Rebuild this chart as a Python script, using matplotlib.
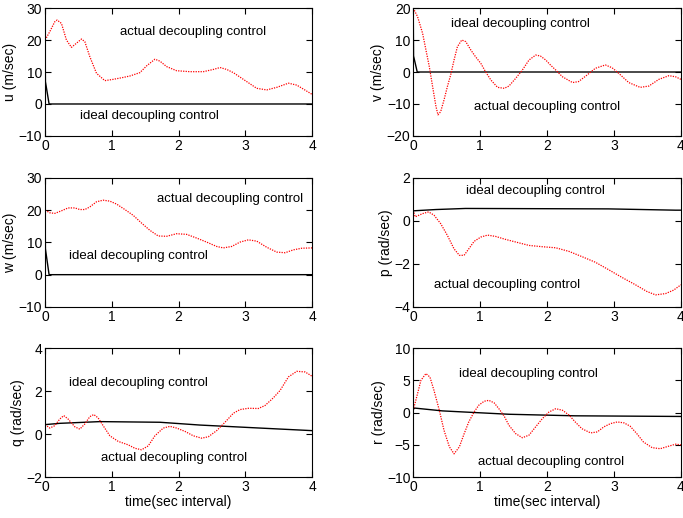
import matplotlib.pyplot as plt

plt.rcParams['font.family'] = ['Liberation Sans', 'DejaVu Sans']

# ideal decoupling control (black)
t_ideal_uvw = [0, 0.005, 0.06, 4]
u_ideal = [20, 7, 0, 0]
v_ideal = [20, 5, 0, 0]
w_ideal = [20, 8, 0, 0]
t_p_ideal = [0, 0.34, 0.78, 2.92, 3.92, 4]
p_ideal = [0.47, 0.53, 0.58, 0.56, 0.5, 0.5]
t_q_ideal = [0, 0.22, 0.82, 1.72, 2.32, 3.22, 4]
q_ideal = [0.44, 0.5, 0.58, 0.55, 0.42, 0.28, 0.16]
t_r_ideal = [0, 0.02, 0.44, 1.43, 2.42, 4]
r_ideal = [0.5, 0.7, 0.26, -0.26, -0.5, -0.6]

# actual decoupling control (red dotted)
t_u = [0, 0.07, 0.145, 0.18, 0.245, 0.32, 0.395, 0.47, 0.545, 0.595, 0.67, 0.77,
       0.895, 1.02, 1.17, 1.27, 1.42, 1.52, 1.645, 1.72, 1.82, 1.97, 2.17, 2.37,
       2.52, 2.62, 2.72, 2.82, 3.02, 3.17, 3.32, 3.47, 3.645, 3.77, 4.0]
u_act = [20, 22.6, 25.7, 26.25, 25.2, 20, 17.7, 19, 20.3, 19.5, 14.8, 9.6,
         7.3, 7.7, 8.3, 8.75, 9.8, 11.9, 14, 13.4, 11.7, 10.4, 10.1, 10.1,
         10.8, 11.4, 10.8, 9.8, 7, 4.9, 4.4, 5.2, 6.5, 5.9, 3.0]
t_v = [0, 0.065, 0.14, 0.19, 0.24, 0.29, 0.34, 0.37, 0.41, 0.46, 0.51, 0.56,
       0.61, 0.66, 0.725, 0.785, 0.86, 0.93, 1.01, 1.08, 1.16, 1.26, 1.36, 1.43,
       1.53, 1.63, 1.73, 1.83, 1.9, 1.98, 2.05, 2.13, 2.23, 2.38, 2.47, 2.6,
       2.72, 2.87, 2.97, 3.07, 3.22, 3.39, 3.52, 3.67, 3.82, 3.92, 4]
v_act = [20, 17.3, 12.1, 6.9, 1.7, -4.6, -10.8, -13.4, -12.4, -8.75, -4.6, -0.9,
         3.75, 7.9, 10, 9.5, 6.9, 4.8, 2.7, 0.1, -2.5, -4.8, -5.1, -4.4,
         -2, 0.6, 3.75, 5.3, 5, 3.75, 2.2, 0.6, -1.5, -3.3, -3, -0.9,
         1.15, 2.2, 1.35, -0.4, -3.3, -4.8, -4.4, -2.3, -1.15, -1.5, -2.3]
t_w = [0, 0.07, 0.145, 0.245, 0.345, 0.445, 0.52, 0.595, 0.67, 0.77, 0.87,
       0.97, 1.07, 1.195, 1.32, 1.445, 1.57, 1.695, 1.82, 1.97, 2.12, 2.27,
       2.42, 2.57, 2.67, 2.795, 2.92, 3.045, 3.17, 3.32, 3.47, 3.595, 3.72,
       3.845, 4]
w_act = [20, 19.2, 19, 19.8, 20.7, 20.7, 20.2, 20.2, 21, 22.6, 23.1,
         22.8, 21.9, 20.2, 18.4, 16, 13.75, 12, 11.9, 12.7, 12.5, 11.35,
         10.1, 8.75, 8.3, 8.75, 10.1, 10.8, 10.4, 8.5, 7, 6.8, 7.7,
         8.2, 8.3]
t_p = [0, 0.03, 0.14, 0.23, 0.31, 0.41, 0.51, 0.61, 0.69, 0.76, 0.83, 0.91,
       1.01, 1.11, 1.23, 1.38, 1.53, 1.73, 1.93, 2.13, 2.33, 2.52, 2.72, 2.92,
       3.12, 3.32, 3.49, 3.62, 3.77, 3.89, 4]
p_act = [0.5, 0.19, 0.34, 0.42, 0.27, -0.125, -0.67, -1.3, -1.6, -1.6, -1.3, -0.95,
         -0.75, -0.66, -0.72, -0.86, -0.98, -1.14, -1.2, -1.25, -1.42, -1.66, -1.92,
         -2.27, -2.63, -2.97, -3.28, -3.44, -3.38, -3.22, -2.97]
t_q = [0, 0.07, 0.145, 0.22, 0.28, 0.345, 0.445, 0.52, 0.595, 0.67, 0.73, 0.795,
       0.87, 0.97, 1.095, 1.245, 1.345, 1.445, 1.545, 1.645, 1.77, 1.87, 1.97,
       2.095, 2.22, 2.345, 2.445, 2.57, 2.695, 2.82, 2.92, 3.045, 3.195, 3.295,
       3.42, 3.52, 3.645, 3.77, 3.895, 4]
q_act = [0.44, 0.28, 0.39, 0.7, 0.86, 0.7, 0.34, 0.23, 0.47, 0.81, 0.91, 0.75,
         0.39, -0.08, -0.34, -0.5, -0.66, -0.73, -0.55, -0.08, 0.28, 0.36, 0.28,
         0.125, -0.08, -0.19, -0.125, 0.16, 0.55, 0.97, 1.14, 1.2, 1.19, 1.33,
         1.69, 2.03, 2.66, 2.92, 2.89, 2.69]
t_r = [0, 0.065, 0.115, 0.19, 0.25, 0.31, 0.39, 0.46, 0.54, 0.61, 0.69, 0.76,
       0.83, 0.91, 0.98, 1.06, 1.13, 1.21, 1.28, 1.36, 1.43, 1.53, 1.63, 1.73,
       1.83, 1.93, 2.03, 2.13, 2.23, 2.33, 2.42, 2.52, 2.65, 2.75, 2.85, 2.95,
       3.05, 3.15, 3.24, 3.34, 3.44, 3.57, 3.69, 3.82, 3.92, 4]
r_act = [0.36, 2.95, 5.0, 6.05, 5.5, 3.45, 0.36, -2.75, -5.3, -6.4, -5.3, -3.3,
         -1.45, 0.1, 1.15, 1.76, 1.9, 1.5, 0.6, -0.57, -1.97, -3.26, -3.9, -3.5,
         -2.2, -0.93, 0.1, 0.6, 0.36, -0.4, -1.45, -2.5, -3.15, -3.0, -2.2, -1.7,
         -1.45, -1.6, -2.1, -3.26, -4.56, -5.44, -5.6, -5.2, -4.9, -5.0]

panels = [
    # pos, t_ideal, ideal, t_act, act, ylim, yticks, ylabel, ideal text, actual text
    ([0.066, 0.7375, 0.391, 0.247], t_ideal_uvw, u_ideal, t_u, u_act,
     (-10, 30), [-10, 0, 10, 20, 30], 'u (m/sec)', (0.53, -3.75), (1.12, 22.4)),
    ([0.605, 0.7375, 0.392, 0.247], t_ideal_uvw, v_ideal, t_v, v_act,
     (-20, 20), [-20, -10, 0, 10, 20], 'v (m/sec)', (0.57, 15), (0.91, -11)),
    ([0.066, 0.4075, 0.391, 0.249], t_ideal_uvw, w_ideal, t_w, w_act,
     (-10, 30), [-10, 0, 10, 20, 30], 'w (m/sec)', (0.355, 5.9), (1.68, 23.4)),
    ([0.605, 0.4075, 0.392, 0.249], t_p_ideal, p_ideal, t_p, p_act,
     (-4, 2), [-4, -2, 0, 2], 'p (rad/sec)', (0.795, 1.39), (0.31, -2.97)),
    ([0.066, 0.079, 0.391, 0.249], t_q_ideal, q_ideal, t_q, q_act,
     (-2, 4), [-2, 0, 2, 4], 'q (rad/sec)', (0.355, 2.39), (0.845, -1.125)),
    ([0.605, 0.079, 0.392, 0.249], t_r_ideal, r_ideal, t_r, r_act,
     (-10, 10), [-10, -5, 0, 5, 10], 'r (rad/sec)', (0.68, 5.96), (0.97, -7.67)),
]

fig = plt.figure(figsize=(6.83, 5.18), dpi=100)

for i, (pos, ti, yi, ta, ya, ylim, yt, ylab, tid, tac) in enumerate(panels):
    ax = fig.add_axes(pos)
    ax.plot(ti, yi, color='black', lw=1)
    ax.plot(ta, ya, color='red', lw=0.9, linestyle=(0, (1, 1)))
    ax.set_xlim(0, 4)
    ax.set_ylim(*ylim)
    ax.set_xticks([0, 1, 2, 3, 4])
    ax.set_yticks(yt)
    ax.tick_params(direction='in', top=True, right=True, length=4,
                   labelsize=10, pad=2)
    ax.set_ylabel(ylab, fontsize=10, labelpad=1)
    ax.text(tid[0], tid[1], 'ideal decoupling control', fontsize=9.5, va='center')
    ax.text(tac[0], tac[1], 'actual decoupling control', fontsize=9.5, va='center')
    if i >= 4:
        ax.set_xlabel('time(sec interval)', fontsize=10, labelpad=1)

fig.savefig('out.png', dpi=100)
